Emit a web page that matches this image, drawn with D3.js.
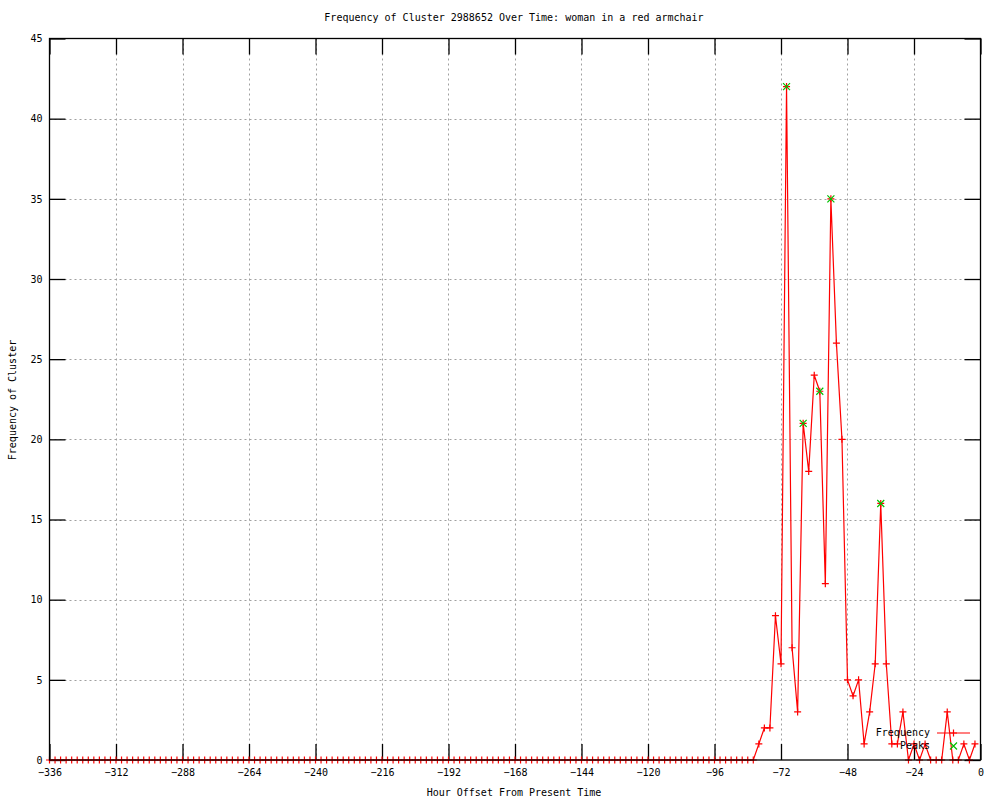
<!DOCTYPE html>
<html>
<head>
<meta charset="utf-8">
<script src="https://cdn.jsdelivr.net/npm/d3@7"></script>
<style>
  html, body { margin: 0; padding: 0; background: #fff; }
  svg { display: block; }
  text { font-family: "DejaVu Sans Mono", "Liberation Mono", monospace; font-size: 10px; fill: #000; }
</style>
</head>
<body>
<svg id="chart" width="1000" height="800"></svg>
<script>
// ---- data ----
const titleText = "Frequency of Cluster 2988652 Over Time: woman in a red armchair";
const xLabel = "Hour Offset From Present Time";
const yLabel = "Frequency of Cluster";
const xTickValues = [-336, -312, -288, -264, -240, -216, -192, -168, -144, -120, -96, -72, -48, -24, 0];
const yTickValues = [0, 5, 10, 15, 20, 25, 30, 35, 40, 45];

// hours with non-zero activity (every other hour from -336 to -82 is zero)
const hours = [];
for (let h = -336; h <= -2; h += 2) hours.push(h);
const recentHours = [-80, -78, -76, -74, -72, -70, -68, -66, -64, -62, -60, -58, -56, -54, -52, -50,
                     -48, -46, -44, -42, -40, -38, -36, -34, -32, -30, -28, -26, -24, -22, -20, -18,
                     -16, -14, -12, -10, -8, -6, -4, -2];
const recentCounts = [1, 2, 2, 9, 6, 42, 7, 3, 21, 18, 24, 23, 11, 35, 26, 20,
                      5, 4, 5, 1, 3, 6, 16, 6, 1, 1, 3, 0, 1, 0, 1, 0,
                      0, 0, 3, 0, 0, 1, 0, 1];
const peakHours = [-70, -64, -58, -54, -36];
const peakCounts = [42, 21, 23, 35, 16];

const countByHour = new Map(recentHours.map((h, i) => [h, recentCounts[i]]));
const freq = hours.map(h => ({ h, v: countByHour.has(h) ? countByHour.get(h) : 0 }));
const peaks = peakHours.map((h, i) => ({ h, v: peakCounts[i] }));

// ---- layout ----
const svg = d3.select("#chart");
const L = 49.5, R = 980.5, T = 38.5, B = 760;
const x = d3.scaleLinear().domain([-336, 0]).range([L, R]);
const y = d3.scaleLinear().domain([0, 45]).range([B, T]);
const RED = "#ff0000", GREEN = "#00c000", GRID = "#a0a0a0";

// grid
const grid = svg.append("g").attr("stroke", GRID).attr("stroke-width", 1).attr("stroke-dasharray", "2,3");
grid.selectAll("line.gx").data(xTickValues.filter(d => d > -336 && d < 0)).join("line")
  .attr("x1", d => Math.round(x(d)) + 0.5).attr("x2", d => Math.round(x(d)) + 0.5)
  .attr("y1", T).attr("y2", B);
grid.selectAll("line.gy").data(yTickValues.filter(d => d > 0 && d < 45)).join("line")
  .attr("y1", d => Math.round(y(d)) + 0.5).attr("y2", d => Math.round(y(d)) + 0.5)
  .attr("x1", L).attr("x2", R);

// axes (ticks pointing inward, mirrored)
function styleAxis(g) {
  g.selectAll(".domain").remove();
  g.selectAll(".tick line").attr("stroke", "#000").attr("stroke-width", 1.3);
  g.selectAll("text").attr("font-family", '"DejaVu Sans Mono", monospace').attr("font-size", 10).attr("fill", "#000");
}
svg.append("g").attr("transform", `translate(0,${B})`)
  .call(d3.axisBottom(x).tickValues(xTickValues).tickSize(-16).tickSizeOuter(0).tickPadding(9).tickFormat(d3.format("d")))
  .call(styleAxis);
svg.append("g").attr("transform", `translate(0,${T})`)
  .call(d3.axisTop(x).tickValues(xTickValues).tickSize(-16).tickSizeOuter(0).tickFormat(""))
  .call(styleAxis);
svg.append("g").attr("transform", `translate(${L},0)`)
  .call(d3.axisLeft(y).tickValues(yTickValues).tickSize(-16).tickSizeOuter(0).tickPadding(7).tickFormat(d3.format("d")))
  .call(styleAxis);
svg.append("g").attr("transform", `translate(${R},0)`)
  .call(d3.axisRight(y).tickValues(yTickValues).tickSize(-16).tickSizeOuter(0).tickFormat(""))
  .call(styleAxis);

// series: frequency line + crosses
const line = d3.line().x(d => x(d.h)).y(d => y(d.v));
svg.append("path").datum(freq).attr("d", line)
  .attr("fill", "none").attr("stroke", RED).attr("stroke-width", 1.2);

const plus = (cx, cy, s) => `M${cx - s},${cy}H${cx + s}M${cx},${cy - s}V${cy + s}`;
const cross = (cx, cy, s) => `M${cx - s},${cy - s}L${cx + s},${cy + s}M${cx - s},${cy + s}L${cx + s},${cy - s}`;

svg.append("g").selectAll("path").data(freq).join("path")
  .attr("d", d => plus(x(d.h), y(d.v), 3.5))
  .attr("stroke", RED).attr("stroke-width", 1.2).attr("fill", "none");

// border
svg.append("rect").attr("x", L).attr("y", T).attr("width", R - L).attr("height", B - T)
  .attr("fill", "none").attr("stroke", "#000").attr("stroke-width", 1.3);

// peaks
svg.append("g").selectAll("path").data(peaks).join("path")
  .attr("d", d => cross(x(d.h), y(d.v), 3.5))
  .attr("stroke", GREEN).attr("stroke-width", 1.2).attr("fill", "none");

// legend
const lg = svg.append("g");
lg.append("text").attr("x", 930).attr("y", 733).attr("text-anchor", "end").attr("dominant-baseline", "middle").text("Frequency");
lg.append("line").attr("x1", 937).attr("x2", 970).attr("y1", 733).attr("y2", 733).attr("stroke", RED).attr("stroke-width", 1.2);
lg.append("path").attr("d", plus(953.5, 733, 3.5)).attr("stroke", RED).attr("stroke-width", 1.2);
lg.append("text").attr("x", 930).attr("y", 746).attr("text-anchor", "end").attr("dominant-baseline", "middle").text("Peaks");
lg.append("path").attr("d", cross(953.5, 746, 3.5)).attr("stroke", GREEN).attr("stroke-width", 1.2);

// titles
svg.append("text").attr("x", 514).attr("y", 18).attr("text-anchor", "middle").attr("dominant-baseline", "middle").text(titleText);
svg.append("text").attr("x", 514).attr("y", 793).attr("text-anchor", "middle").attr("dominant-baseline", "middle").text(xLabel);
svg.append("text").attr("transform", "translate(13,400) rotate(-90)").attr("text-anchor", "middle").attr("dominant-baseline", "middle").text(yLabel);
</script>
</body>
</html>
